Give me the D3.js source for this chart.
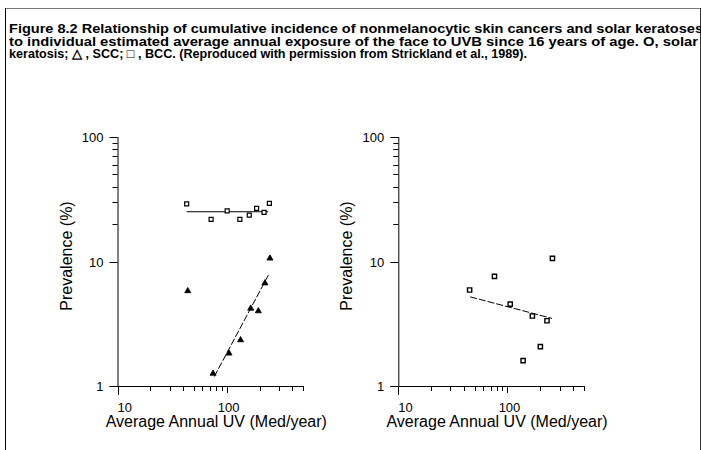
<!DOCTYPE html>
<html>
<head>
<meta charset="utf-8">
<script src="https://cdn.jsdelivr.net/npm/d3@7"></script>
<style>
  html, body { margin: 0; padding: 0; background: #fff; }
  svg { display: block; }
  .axis text { font-family: "Liberation Sans", Arial, sans-serif; font-size: 13px; fill: #000; }
  .title { font-family: "Liberation Sans", Arial, sans-serif; font-weight: bold; font-size: 12.5px; fill: #000; }
  .lab { font-family: "Liberation Sans", Arial, sans-serif; font-size: 16px; fill: #000; }
</style>
</head>
<body>
<svg id="fig" width="701" height="450"></svg>
<script>
// Caption lines and the width each one spans
const captionLines = [
  "Figure 8.2 Relationship of cumulative incidence of nonmelanocytic skin cancers and solar keratoses",
  "to individual estimated average annual exposure of the face to UVB since 16 years of age. O, solar",
  "keratosis; \u25B3 , SCC; \u25A1 , BCC.  (Reproduced with permission from Strickland et al., 1989)."
];
const captionWidths = [694, 689, 518];

// Axis ticks
const xMajorTicks = [10, 100];
const xMinorTicks = [20, 30, 40, 50, 60, 70, 80, 90, 200, 300, 400, 500];
const yMajorTicks = [1, 10, 100];
const yMinorTicks = [20, 30, 40, 50, 60, 70, 80, 90];

// Left panel: solar keratosis (UV, prevalence %)
const skUV   = [43, 72, 101, 132, 161, 188, 220, 246];
const skPrev = [29.0, 21.8, 25.5, 21.8, 23.6, 26.7, 24.8, 29.3];
const skFitUV   = [43, 240];
const skFitPrev = [25.1, 25.1];

// Left panel: squamous cell carcinoma
const sccUV   = [44, 75, 105, 134, 166, 195, 224, 249];
const sccPrev = [5.8, 1.26, 1.83, 2.34, 4.2, 4.0, 6.7, 10.6];
const sccFitUV   = [77, 246];
const sccFitPrev = [1.19, 8.04];

// Right panel: basal cell carcinoma
const bccUV   = [45, 76, 106, 139, 169, 200, 230, 258];
const bccPrev = [5.9, 7.6, 4.55, 1.6, 3.65, 2.07, 3.34, 10.6];
const bccFitUV   = [45.5, 256];
const bccFitPrev = [5.2, 3.49];

const svg = d3.select("#fig");

// Frame
svg.append("line").attr("x1", 5).attr("x2", 701).attr("y1", 8.5).attr("y2", 8.5)
  .attr("stroke", "#777").attr("stroke-width", 1);
svg.append("line").attr("x1", 5.5).attr("x2", 5.5).attr("y1", 8).attr("y2", 450)
  .attr("stroke", "#000").attr("stroke-width", 1);
svg.append("line").attr("x1", 700.5).attr("x2", 700.5).attr("y1", 8).attr("y2", 450)
  .attr("stroke", "#333").attr("stroke-width", 1);

// Caption
svg.selectAll("text.title").data(captionLines).join("text")
  .attr("class", "title")
  .attr("x", 9)
  .attr("y", (d, i) => 33 + i * 12.7)
  .attr("textLength", (d, i) => captionWidths[i])
  .attr("lengthAdjust", "spacingAndGlyphs")
  .text(d => d);

function panel(ox, seriesList) {
  const x = d3.scaleLog().domain([10, 500]).range([ox, ox + 185.5]);
  const y = d3.scaleLog().domain([1, 100]).range([386, 137]);
  const g = svg.append("g");

  // X axis
  const gx = g.append("g").attr("class", "axis").attr("transform", "translate(0,386)");
  gx.append("line").attr("x1", x(10) - 8).attr("x2", x(500)).attr("y1", 0.5).attr("y2", 0.5)
    .attr("stroke", "#000");
  gx.selectAll("line.minor").data(xMinorTicks).join("line").attr("class", "minor")
    .attr("x1", d => Math.round(x(d)) + 0.5).attr("x2", d => Math.round(x(d)) + 0.5)
    .attr("y1", 0).attr("y2", 5).attr("stroke", "#000");
  gx.selectAll("line.major").data(xMajorTicks).join("line").attr("class", "major")
    .attr("x1", d => Math.round(x(d)) + 0.5).attr("x2", d => Math.round(x(d)) + 0.5)
    .attr("y1", 0).attr("y2", d => d === 10 ? 9 : 7).attr("stroke", "#000");
  gx.selectAll("text").data(xMajorTicks).join("text")
    .attr("x", d => d === 10 ? x(d) : x(d) + 2)
    .attr("y", 25.5)
    .attr("text-anchor", d => d === 10 ? "start" : "middle")
    .text(d => d);

  // Y axis
  const gy = g.append("g").attr("class", "axis");
  gy.append("line").attr("x1", x(10) + 0.5).attr("x2", x(10) + 0.5).attr("y1", y(100)).attr("y2", 387)
    .attr("stroke", "#000");
  gy.selectAll("line.minor").data(yMinorTicks).join("line").attr("class", "minor")
    .attr("x1", x(10) - 5).attr("x2", x(10))
    .attr("y1", d => Math.round(y(d)) + 0.5).attr("y2", d => Math.round(y(d)) + 0.5)
    .attr("stroke", "#000");
  gy.selectAll("line.major").data(yMajorTicks).join("line").attr("class", "major")
    .attr("x1", x(10) - 8).attr("x2", x(10))
    .attr("y1", d => Math.round(y(d)) + 0.5).attr("y2", d => Math.round(y(d)) + 0.5)
    .attr("stroke", "#000");
  gy.selectAll("text").data(yMajorTicks).join("text")
    .attr("x", x(10) - 14)
    .attr("y", d => y(d) + 5)
    .attr("text-anchor", "end")
    .text(d => d);

  // Axis titles
  g.append("text").attr("class", "lab")
    .attr("x", (x(10) + x(500)) / 2 + 6).attr("y", 427)
    .attr("text-anchor", "middle")
    .text("Average Annual UV (Med/year)");
  g.append("text").attr("class", "lab")
    .attr("transform", `translate(${x(10) - 46},256) rotate(-90)`)
    .attr("text-anchor", "middle")
    .text("Prevalence (%)");

  const line = d3.line().x(d => x(d[0])).y(d => y(d[1]));

  seriesList.forEach(s => {
    const fit = d3.zip(s.fitX, s.fitY);
    g.append("path").attr("d", line(fit)).attr("fill", "none")
      .attr("stroke", "#000").attr("stroke-width", 1)
      .attr("stroke-dasharray", s.dash || null);
    const pts = d3.zip(s.xs, s.ys);
    const sym = d3.symbol().type(s.symbol).size(s.size);
    g.selectAll(null).data(pts).join("path")
      .attr("transform", d => `translate(${x(d[0])},${y(d[1])})`)
      .attr("d", sym)
      .attr("fill", s.filled ? "#000" : "#fff")
      .attr("stroke", "#000")
      .attr("stroke-width", s.sw);
  });
}

panel(117.5, [
  { xs: skUV, ys: skPrev, fitX: skFitUV, fitY: skFitPrev, symbol: d3.symbolSquare, size: 16, filled: false, sw: 1.2 },
  { xs: sccUV, ys: sccPrev, fitX: sccFitUV, fitY: sccFitPrev, symbol: d3.symbolTriangle, size: 16, filled: true, sw: 0.8, dash: "7,2" }
]);
panel(398.3, [
  { xs: bccUV, ys: bccPrev, fitX: bccFitUV, fitY: bccFitPrev, symbol: d3.symbolSquare, size: 18, filled: false, sw: 1.4, dash: "7,2" }
]);
</script>
</body>
</html>
